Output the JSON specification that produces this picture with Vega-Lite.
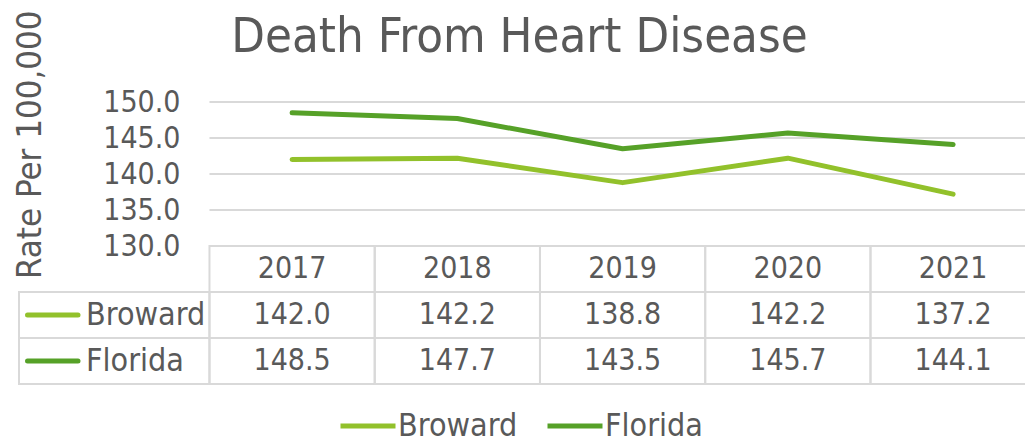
{
  "$schema": "https://vega.github.io/schema/vega-lite/v6.json",
  "width": 1006,
  "height": 283,
  "autosize": {"type": "none"},
  "padding": {"left": 19, "top": 101, "right": 0, "bottom": 54},
  "background": "white",
  "config": {"font": "DejaVu Sans Condensed, Lato, sans-serif", "view": {"stroke": null}},
  "title": {"text": "Death From Heart Disease", "fontSize": 48.7, "fontWeight": "normal", "color": "#595959", "anchor": "middle", "frame": "group", "baseline": "alphabetic", "offset": -91, "dx": -2.5},
  "datasets": {
    "rates": [
      {"year": 2017, "series": "Broward", "value": 142.0},
      {"year": 2018, "series": "Broward", "value": 142.2},
      {"year": 2019, "series": "Broward", "value": 138.8},
      {"year": 2020, "series": "Broward", "value": 142.2},
      {"year": 2021, "series": "Broward", "value": 137.2},
      {"year": 2017, "series": "Florida", "value": 148.5},
      {"year": 2018, "series": "Florida", "value": 147.7},
      {"year": 2019, "series": "Florida", "value": 143.5},
      {"year": 2020, "series": "Florida", "value": 145.7},
      {"year": 2021, "series": "Florida", "value": 144.1}
    ],
    "years": [{"year": 2017}, {"year": 2018}, {"year": 2019}, {"year": 2020}, {"year": 2021}],
    "grid": [{"v": 130}, {"v": 135}, {"v": 140}, {"v": 145}, {"v": 150}],
    "series": [{"series": "Broward"}, {"series": "Florida"}]
  },
  "layer": [
    {
      "layer": [
        {
          "data": {"name": "grid"},
          "mark": {"type": "rule", "color": "#d9d9d9", "strokeWidth": 2},
          "encoding": {
            "x": {"datum": 2016.5, "type": "quantitative", "scale": {"domain": [2015.3474, 2021.4351], "nice": false, "zero": false}, "axis": null},
            "x2": {"datum": 2021.5},
            "y": {"field": "v", "type": "quantitative", "scale": {"domain": [130, 150], "range": [145, 1], "nice": false, "zero": false},
              "axis": {"values": [130, 135, 140, 145, 150], "format": ".1f", "grid": false, "ticks": false, "domain": false, "offset": -190.5, "labelPadding": 29.5, "labelFontSize": 30, "labelColor": "#595959",
                "title": "Rate Per 100,000", "titleFontSize": 34.5, "titleFontWeight": "normal", "titleColor": "#595959", "titleX": -169.5, "titleY": -91, "titleAlign": "right", "titleAngle": -90, "titleBaseline": "alphabetic"}}
          }
        },
        {
          "data": {"name": "rates"},
          "mark": {"type": "line", "strokeWidth": 5, "strokeCap": "round", "strokeJoin": "round"},
          "encoding": {
            "x": {"field": "year", "type": "quantitative", "scale": {"domain": [2015.3474, 2021.4351], "nice": false, "zero": false}, "axis": null},
            "y": {"field": "value", "type": "quantitative", "scale": {"domain": [130, 150], "range": [145, 1], "nice": false, "zero": false}},
            "color": {"field": "series", "type": "nominal", "scale": {"domain": ["Broward", "Florida"], "range": ["#92c12b", "#56a128"]},
              "legend": {"title": null, "orient": "none", "legendX": 319, "legendY": 295, "direction": "horizontal", "symbolType": "stroke", "symbolSize": 3025, "symbolStrokeWidth": 5, "labelFontSize": 32, "labelColor": "#595959", "labelOffset": 0, "columnPadding": 19}}
          }
        }
      ]
    },
    {
      "layer": [
        {
          "data": {"name": "rates"},
          "mark": {"type": "rect", "filled": false, "stroke": "#d9d9d9", "strokeWidth": 2, "width": 165.25},
          "encoding": {
            "x": {"field": "year", "type": "quantitative", "scale": {"domain": [2015.3474, 2021.4351], "nice": false, "zero": false}, "axis": null},
            "y": {"field": "series", "type": "nominal", "scale": {"type": "band", "domain": ["Year", "Broward", "Florida"], "range": [145, 283], "paddingInner": 0, "paddingOuter": 0}, "axis": null}
          }
        },
        {
          "data": {"name": "years"},
          "mark": {"type": "rect", "filled": false, "stroke": "#d9d9d9", "strokeWidth": 2, "width": 165.25},
          "encoding": {
            "x": {"field": "year", "type": "quantitative", "scale": {"domain": [2015.3474, 2021.4351], "nice": false, "zero": false}, "axis": null},
            "y": {"datum": "Year", "type": "nominal", "scale": {"type": "band", "domain": ["Year", "Broward", "Florida"], "range": [145, 283], "paddingInner": 0, "paddingOuter": 0}, "axis": null}
          }
        },
        {
          "data": {"name": "series"},
          "mark": {"type": "rect", "filled": false, "stroke": "#d9d9d9", "strokeWidth": 2},
          "encoding": {
            "x": {"datum": 2015.3474, "type": "quantitative", "scale": {"domain": [2015.3474, 2021.4351], "nice": false, "zero": false}, "axis": null},
            "x2": {"datum": 2016.5},
            "y": {"field": "series", "type": "nominal", "scale": {"type": "band", "domain": ["Year", "Broward", "Florida"], "range": [145, 283], "paddingInner": 0, "paddingOuter": 0}, "axis": null}
          }
        },
        {
          "data": {"name": "series"},
          "mark": {"type": "rule", "strokeWidth": 5, "strokeCap": "round", "xOffset": 8.5, "x2Offset": 59},
          "encoding": {
            "x": {"datum": 2015.3474, "type": "quantitative", "scale": {"domain": [2015.3474, 2021.4351], "nice": false, "zero": false}, "axis": null},
            "x2": {"datum": 2015.3474},
            "y": {"field": "series", "type": "nominal", "scale": {"type": "band", "domain": ["Year", "Broward", "Florida"], "range": [145, 283], "paddingInner": 0, "paddingOuter": 0}, "axis": null},
            "color": {"field": "series", "type": "nominal"}
          }
        },
        {
          "data": {"name": "series"},
          "mark": {"type": "text", "align": "left", "baseline": "middle", "dx": 67, "fontSize": 32, "color": "#595959"},
          "encoding": {
            "x": {"datum": 2015.3474, "type": "quantitative", "scale": {"domain": [2015.3474, 2021.4351], "nice": false, "zero": false}, "axis": null},
            "y": {"field": "series", "type": "nominal", "scale": {"type": "band", "domain": ["Year", "Broward", "Florida"], "range": [145, 283], "paddingInner": 0, "paddingOuter": 0}, "axis": null},
            "text": {"field": "series", "type": "nominal"}
          }
        },
        {
          "data": {"name": "years"},
          "mark": {"type": "text", "align": "center", "baseline": "middle", "fontSize": 30, "color": "#595959"},
          "encoding": {
            "x": {"field": "year", "type": "quantitative", "scale": {"domain": [2015.3474, 2021.4351], "nice": false, "zero": false}, "axis": null},
            "y": {"datum": "Year", "type": "nominal", "scale": {"type": "band", "domain": ["Year", "Broward", "Florida"], "range": [145, 283], "paddingInner": 0, "paddingOuter": 0}, "axis": null},
            "text": {"field": "year", "type": "nominal"}
          }
        },
        {
          "data": {"name": "rates"},
          "mark": {"type": "text", "align": "center", "baseline": "middle", "fontSize": 30, "color": "#595959"},
          "encoding": {
            "x": {"field": "year", "type": "quantitative", "scale": {"domain": [2015.3474, 2021.4351], "nice": false, "zero": false}, "axis": null},
            "y": {"field": "series", "type": "nominal", "scale": {"type": "band", "domain": ["Year", "Broward", "Florida"], "range": [145, 283], "paddingInner": 0, "paddingOuter": 0}, "axis": null},
            "text": {"field": "value", "type": "quantitative", "format": ".1f"}
          }
        }
      ]
    }
  ],
  "resolve": {"scale": {"y": "independent"}}
}
